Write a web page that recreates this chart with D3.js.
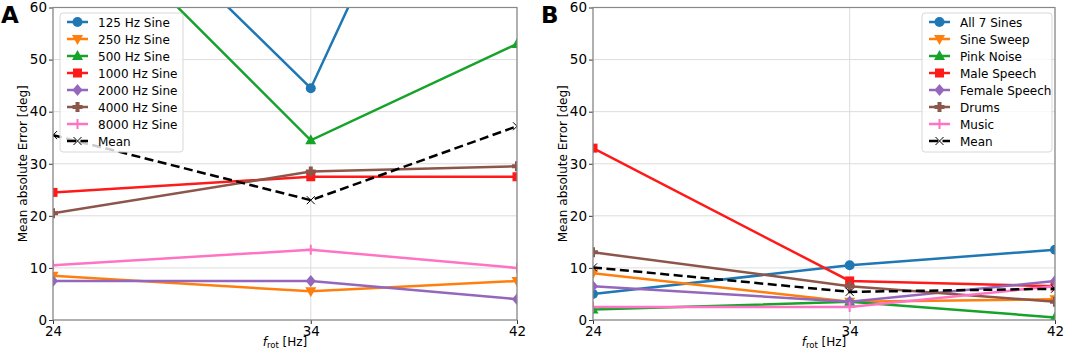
<!DOCTYPE html>
<html>
<head>
<meta charset="utf-8">
<script src="https://cdn.jsdelivr.net/npm/d3@7"></script>
<style>
  body { margin: 0; background: #fff; }
  text { font-family: "DejaVu Sans", sans-serif; }
</style>
</head>
<body>
<svg id="chart" width="1065" height="352"></svg>
<script>
// x positions (rotation frequency)
const rotFreqs = [24, 34, 42];
const yTicks = [0, 10, 20, 30, 40, 50, 60];

// Panel A: single sines
const seriesA = ['125 Hz Sine', '250 Hz Sine', '500 Hz Sine', '1000 Hz Sine',
                 '2000 Hz Sine', '4000 Hz Sine', '8000 Hz Sine', 'Mean'];
const valuesA = [
  [93, 44.5, 130],
  [8.5, 5.5, 7.5],
  [84, 34.5, 53],
  [24.5, 27.5, 27.5],
  [7.5, 7.5, 4],
  [20.5, 28.5, 29.5],
  [10.5, 13.5, 10],
  [35.5, 23, 37.2]
];

// Panel B: other signals
const seriesB = ['All 7 Sines', 'Sine Sweep', 'Pink Noise', 'Male Speech',
                 'Female Speech', 'Drums', 'Music', 'Mean'];
const valuesB = [
  [5, 10.5, 13.5],
  [9, 3.5, 4],
  [2, 3.5, 0.5],
  [33, 7.5, 6.5],
  [6.5, 3.5, 7.5],
  [13, 6.5, 3.5],
  [2.5, 2.5, 6.5],
  [10.1, 5.4, 6]
];

const colors = ['#1f77b4', '#ff7f0e', '#16a32a', '#ff1a1a', '#9467bd', '#8c564b', '#ff73c4', '#000000'];
const markers = ['circle', 'tridown', 'triup', 'square', 'diamond', 'plusfill', 'plus', 'x'];

const svg = d3.select('#chart');
const margin = { top: 7.5, bottom: 32 };
const height = 352;

function drawMarker(g, type, x, y, color) {
  const s = 5;
  if (type === 'circle') {
    g.append('circle').attr('cx', x).attr('cy', y).attr('r', s).attr('fill', color);
  } else if (type === 'square') {
    g.append('rect').attr('x', x - s + 0.5).attr('y', y - s + 0.5).attr('width', 2 * s - 1).attr('height', 2 * s - 1).attr('fill', color);
  } else if (type === 'triup') {
    g.append('path').attr('d', `M${x},${y - s - 1}L${x + s + 0.5},${y + s - 1}L${x - s - 0.5},${y + s - 1}Z`).attr('fill', color);
  } else if (type === 'tridown') {
    g.append('path').attr('d', `M${x},${y + s + 1}L${x + s + 0.5},${y - s + 1}L${x - s - 0.5},${y - s + 1}Z`).attr('fill', color);
  } else if (type === 'diamond') {
    g.append('path').attr('d', `M${x},${y - s - 1}L${x + s},${y}L${x},${y + s + 1}L${x - s},${y}Z`).attr('fill', color);
  } else if (type === 'plusfill') {
    const a = 2, b = s;
    g.append('path').attr('d', `M${x - a},${y - b}H${x + a}V${y - a}H${x + b}V${y + a}H${x + a}V${y + b}H${x - a}V${y + a}H${x - b}V${y - a}H${x - a}Z`).attr('fill', color);
  } else if (type === 'plus') {
    g.append('path').attr('d', `M${x - s},${y}H${x + s}M${x},${y - s}V${y + s}`).attr('stroke', color).attr('stroke-width', 2);
  } else if (type === 'x') {
    g.append('path').attr('d', `M${x - 4},${y - 4}L${x + 4},${y + 4}M${x - 4},${y + 4}L${x + 4},${y - 4}`).attr('stroke', color).attr('stroke-width', 1);
  }
}

function drawPanel(id, left, right, names, values, label, legendX) {
  const x = d3.scaleLinear().domain([24, 42]).range([left, right]);
  const y = d3.scaleLinear().domain([0, 60]).range([height - margin.bottom, margin.top]);
  const g = svg.append('g');

  // grid
  g.append('g').selectAll('line').data(yTicks).join('line')
    .attr('x1', left).attr('x2', right)
    .attr('y1', d => y(d)).attr('y2', d => y(d))
    .attr('stroke', '#dcdcdc').attr('stroke-width', 1);
  g.append('g').selectAll('line').data(rotFreqs).join('line')
    .attr('x1', d => x(d)).attr('x2', d => x(d))
    .attr('y1', y(0)).attr('y2', y(60))
    .attr('stroke', '#dcdcdc').attr('stroke-width', 1);

  // clip
  svg.append('clipPath').attr('id', 'clip' + id)
    .append('rect').attr('x', left).attr('y', y(60)).attr('width', right - left).attr('height', y(0) - y(60));
  const plot = g.append('g').attr('clip-path', `url(#clip${id})`);

  const line = d3.line().x((d, i) => x(rotFreqs[i])).y(d => y(d));
  values.forEach((vals, k) => {
    plot.append('path').datum(vals)
      .attr('d', line)
      .attr('fill', 'none')
      .attr('stroke', colors[k])
      .attr('stroke-width', 2.5)
      .attr('stroke-dasharray', k === 7 ? '9,4.5' : null);
    vals.forEach((v, i) => drawMarker(plot, markers[k], x(rotFreqs[i]), y(v), colors[k]));
  });

  // axes
  const xAxis = g.append('g').attr('transform', `translate(0,${y(0)})`)
    .call(d3.axisBottom(x).tickValues(rotFreqs).tickSize(4).tickPadding(2));
  const yAxis = g.append('g').attr('transform', `translate(${left},0)`)
    .call(d3.axisLeft(y).tickValues(yTicks).tickSize(4).tickPadding(2));
  [xAxis, yAxis].forEach(a => {
    a.select('.domain').remove();
    a.selectAll('text').attr('font-size', 13.5).attr('fill', '#000').attr('font-family', 'DejaVu Sans');
    a.selectAll('line').attr('stroke', '#333');
  });

  // frame
  g.append('rect').attr('x', left).attr('y', y(60)).attr('width', right - left).attr('height', y(0) - y(60))
    .attr('fill', 'none').attr('stroke', '#888').attr('stroke-width', 1.2);

  // axis labels
  g.append('text').attr('transform', `translate(${left - 26},${(y(0) + y(60)) / 2}) rotate(-90)`)
    .attr('text-anchor', 'middle').attr('font-size', 12).text('Mean absolute Error [deg]');
  const xl = g.append('text').attr('x', (left + right) / 2).attr('y', 346)
    .attr('text-anchor', 'middle').attr('font-size', 12);
  xl.append('tspan').attr('font-style', 'italic').text('f');
  xl.append('tspan').attr('font-size', 8.5).attr('dy', 2).text('rot');
  xl.append('tspan').attr('dy', -2).text(' [Hz]');

  // panel letter
  svg.append('text').attr('x', left - 52).attr('y', 23).attr('font-size', 23).attr('font-weight', 'bold').text(label);

  // legend
  const lg = g.append('g').attr('transform', `translate(${legendX},13)`);
  const lw = id === 'A' ? 123 : 130;
  lg.append('rect').attr('width', lw).attr('height', 139).attr('rx', 3)
    .attr('fill', 'rgba(255,255,255,0.8)').attr('stroke', '#d8d8d8');
  names.forEach((n, k) => {
    const ly = 9 + k * 17;
    lg.append('line').attr('x1', 7).attr('x2', 28).attr('y1', ly).attr('y2', ly)
      .attr('stroke', colors[k]).attr('stroke-width', 2.5).attr('stroke-dasharray', k === 7 ? '9,4.5' : null);
    drawMarker(lg, markers[k], 17.5, ly, colors[k]);
    lg.append('text').attr('x', 38).attr('y', ly + 4.5).attr('font-size', 12).text(n);
  });
}

drawPanel('A', 53, 517, seriesA, valuesA, 'A', 60);
drawPanel('B', 593, 1055, seriesB, valuesB, 'B', 922);
</script>
</body>
</html>
